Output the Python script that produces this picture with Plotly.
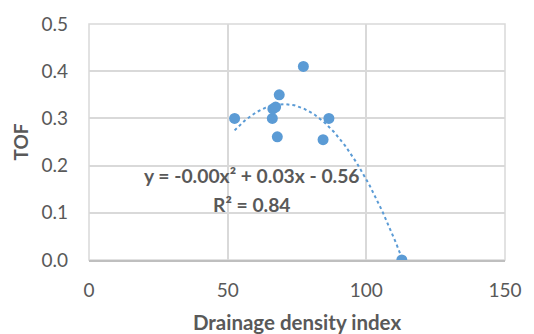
import numpy as np
import plotly.graph_objects as go

drainage_density = [52.5, 66.1, 66.3, 67.3, 68.6, 67.9, 77.3, 84.4, 86.5, 112.8]
tof = [0.30, 0.30, 0.32, 0.324, 0.35, 0.261, 0.41, 0.255, 0.30, 0.0]

x_ticks = [0, 50, 100, 150]
y_ticks = [0.0, 0.1, 0.2, 0.3, 0.4, 0.5]

eq_text = "y = -0.00x² + 0.03x - 0.56"
r2_text = "R² = 0.84"

# quadratic trendline fitted to the data
coef = np.polyfit(drainage_density, tof, 2)
xf = np.linspace(min(drainage_density), max(drainage_density), 200)
yf = np.polyval(coef, xf)

blue = "#5B9BD5"
gray = "#595959"
grid = "#D9D9D9"
axis_gray = "#BFBFBF"
font = "Lato"

fig = go.Figure()
fig.add_trace(go.Scatter(x=xf, y=yf, mode="lines",
                         line=dict(color=blue, width=2, dash="dot"),
                         hoverinfo="skip", showlegend=False))
fig.add_trace(go.Scatter(x=drainage_density, y=tof, mode="markers",
                         marker=dict(color=blue, size=11),
                         showlegend=False))

# plot-area frame (grid coloured) on left, top and right
fig.add_shape(type="rect", xref="paper", yref="paper", x0=0, x1=1, y0=0, y1=1,
              line=dict(color=grid, width=1.5), layer="below")

fig.add_annotation(x=58.8, y=0.178, xref="x", yref="y", text="<b>" + eq_text + "</b>",
                   showarrow=False, font=dict(family=font, size=19.3, color=gray),
                   xanchor="center", yanchor="middle")
fig.add_annotation(x=58.8, y=0.118, xref="x", yref="y", text="<b>" + r2_text + "</b>",
                   showarrow=False, font=dict(family=font, size=19.3, color=gray),
                   xanchor="center", yanchor="middle")

fig.update_layout(
    width=526, height=326,
    margin=dict(l=81, r=29, t=16, b=74),
    paper_bgcolor="white", plot_bgcolor="white",
    font=dict(family=font, color=gray, size=19),
    xaxis=dict(range=[0, 150], tickvals=x_ticks, ticktext=[str(v) for v in x_ticks],
               showgrid=True, gridcolor=grid, gridwidth=1.5,
               zeroline=False, showline=True, linecolor=axis_gray, linewidth=2,
               ticks="", automargin=False, ticklabelstandoff=12,
               title=dict(text="<b>Drainage density index</b>", font=dict(size=20.5, color=gray),
                          standoff=20),
               tickfont=dict(size=19, color=gray)),
    yaxis=dict(range=[0, 0.5], tickvals=y_ticks, ticktext=[f"{v:.1f}" for v in y_ticks],
               showgrid=True, gridcolor=grid, gridwidth=1.5,
               zeroline=False, showline=False,
               ticks="", automargin=False, ticklabelstandoff=20,
               title=dict(text="<b>TOF</b>", font=dict(size=19, color=gray), standoff=7),
               tickfont=dict(size=19, color=gray)),
)

fig.write_html("out.html")
